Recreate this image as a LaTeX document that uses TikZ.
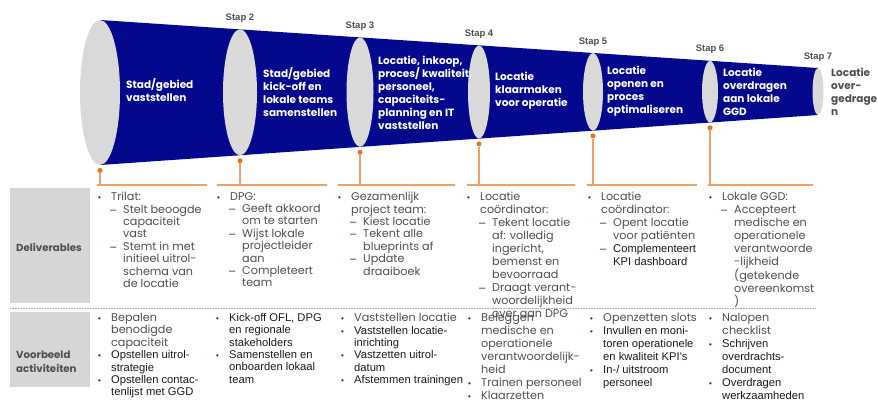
\documentclass[tikz,border=0pt]{standalone}
\usepackage{fontspec}
\setmainfont{Liberation Sans}
\newfontfamily\gothic{Poppins}
\newfontfamily\arialf{Liberation Sans}
\usetikzlibrary{shapes.geometric,positioning}

\definecolor{conecol}{RGB}{4,8,140}
\definecolor{ringcol}{RGB}{217,217,217}
\definecolor{pincol}{RGB}{232,112,30}
\definecolor{stemcol}{RGB}{240,160,105}
\definecolor{labelbg}{RGB}{214,214,214}
\definecolor{txtgrey}{RGB}{78,78,78}
\definecolor{txtdark}{RGB}{25,25,25}
\definecolor{bulcol}{RGB}{25,30,130}

% list helpers for the columns
\newcommand{\bul}{\makebox[13pt][l]{\textcolor{bulcol}{\arialf\footnotesize •}}}
\newcommand{\dsh}{\hspace*{12pt}\makebox[13pt][l]{\textcolor{bulcol}{\arialf –}}}
\newcommand{\ind}{\hspace*{13pt}}
\newcommand{\indd}{\hspace*{25pt}}
\newcommand{\ar}[1]{{\arialf\color{txtdark}#1}}

\tikzstyle{ring} = [ellipse, fill=ringcol, inner sep=0pt]
\tikzstyle{stage} = [text=white, font=\gothic\bfseries\fontsize{10.5}{13}\selectfont, align=left, inner sep=0pt, anchor=west]
\tikzstyle{steplabel} = [font=\bfseries\fontsize{9.5}{11}\selectfont, text=txtgrey, inner sep=0pt]
\tikzstyle{pin} = [circle, fill=pincol, inner sep=0pt, minimum size=5pt]
\tikzstyle{stem} = [draw=stemcol, line width=1.2pt]
\tikzstyle{column} = [align=left, anchor=north west, inner sep=0pt, text=txtgrey, font=\gothic\fontsize{11.2}{12.4}\selectfont]
\tikzstyle{loose} = [font=\gothic\fontsize{11.2}{12.95}\selectfont]
\tikzstyle{rowhead} = [fill=labelbg, minimum width=80pt, anchor=north west, inner sep=0pt]
\tikzstyle{rowtext} = [font=\gothic\bfseries\fontsize{10.2}{14.5}\selectfont, text=txtgrey, align=left, anchor=west, inner sep=0pt]

\begin{document}
\begin{tikzpicture}[x=1pt, y=-1pt]
\useasboundingbox (0,0) rectangle (878,405);

% the funnel
\coordinate (ctl) at (100,20);
\coordinate (ctr) at (818,68);
\coordinate (cbr) at (818,115);
\coordinate (cbl) at (100,165);
\fill[conecol] (ctl) -- (ctr) -- (cbr) -- (cbl) -- cycle;

\node [ring, minimum width=40pt, minimum height=145pt] (r1) at (100,92.5) {};
\node [ring, minimum width=34pt, minimum height=126pt] (r2) at (240,92.3) {};
\node [ring, minimum width=27pt, minimum height=109.5pt] (r3) at (360,92.1) {};
\node [ring, minimum width=22pt, minimum height=93pt] (r4) at (479,92) {};
\node [ring, minimum width=20pt, minimum height=77.5pt] (r5) at (593,91.8) {};
\node [ring, minimum width=16pt, minimum height=61.5pt] (r6) at (710,91.6) {};
\node [ring, minimum width=11pt, minimum height=47pt] (r7) at (818,91.5) {};

\node [steplabel, above=6.5pt of r2] (s2) {Stap 2};
\node [steplabel, above=6.5pt of r3] (s3) {Stap 3};
\node [steplabel, above=6.5pt of r4] (s4) {Stap 4};
\node [steplabel, above=6.5pt of r5] (s5) {Stap 5};
\node [steplabel, above=6.5pt of r6] (s6) {Stap 6};
\node [steplabel, above=6.5pt of r7] (s7) {Stap 7};

\node [stage] (t1) at (126,90) {Stad/gebied\\vaststellen};
\node [stage] (t2) at (263,92) {Stad/gebied\\kick-off en\\lokale teams\\samenstellen};
\node [stage] (t3) at (378,92.5) {Locatie, inkoop,\\proces/ kwaliteit,\\personeel,\\capaciteits-\\planning en IT\\vaststellen};
\node [stage] (t4) at (495,91) {Locatie\\klaarmaken\\voor operatie};
\node [stage] (t5) at (607,91.5) {Locatie\\openen en\\proces\\optimaliseren};
\node [stage] (t6) at (723,91.5) {Locatie\\overdragen\\aan lokale\\GGD};
\node [stage, text=txtgrey] (t7) at (831,91.5) {Locatie\\over-\\gedrage\\n};

% orange pins and brackets
\node [pin, below=2.5pt of r1] (p1) {};
\node [pin, below=2.5pt of r2] (p2) {};
\node [pin, below=2.5pt of r3] (p3) {};
\node [pin, below=2.5pt of r4] (p4) {};
\node [pin, below=2.5pt of r5] (p5) {};
\node [pin, below=2.5pt of r6] (p6) {};
\coordinate (h1a) at (97,185);  \coordinate (h1b) at (207,185);
\coordinate (h2a) at (217,185); \coordinate (h2b) at (327,185);
\coordinate (h3a) at (338,185); \coordinate (h3b) at (455,185);
\coordinate (h4a) at (467,185); \coordinate (h4b) at (575,185);
\coordinate (h5a) at (587,185); \coordinate (h5b) at (697,185);
\coordinate (h6a) at (708,185); \coordinate (h6b) at (813,185);
\path [stem] (p1) -- (p1 |- h1a) (h1a) -- (h1b);
\path [stem] (p2) -- (p2 |- h2a) (h2a) -- (h2b);
\path [stem] (p3) -- (p3 |- h3a) (h3a) -- (h3b);
\path [stem] (p4) -- (p4 |- h4a) (h4a) -- (h4b);
\path [stem] (p5) -- (p5 |- h5a) (h5a) -- (h5b);
\path [stem] (p6) -- (p6 |- h6a) (h6a) -- (h6b);

% row headings
\node [rowhead, minimum height=115pt] (delhead) at (10,188) {};
\node [rowhead, minimum height=75pt] (acthead) at (10,312) {};
\node [rowtext] (deltext) at (16,247) {Deliverables};
\node [rowtext] (acttext) at (16,362) {Voorbeeld\\activiteiten};
\coordinate (sepl) at (10,308);
\coordinate (sepr) at (815,308);
\draw [gray!70, line width=0.6pt, dash pattern=on 0.8pt off 0.8pt] (sepl) -- (sepr);

% deliverables
\node [column] (d1) at (98,192) {\bul Trilat:\\\dsh Stelt beoogde\\\indd capaciteit\\\indd vast\\\dsh Stemt in met\\\indd initieel uitrol-\\\indd schema van\\\indd de locatie};
\node [column] (d2) at (217,192) {\bul DPG:\\\dsh Geeft akkoord\\\indd om te starten\\\dsh Wijst lokale\\\indd projectleider\\\indd aan\\\dsh Completeert\\\indd team};
\node [column] (d3) at (338,192) {\bul Gezamenlijk\\\ind project team:\\\dsh Kiest locatie\\\dsh Tekent alle\\\indd blueprints af\\\dsh Update\\\indd draaiboek};
\node [column, loose] (d4) at (467,192) {\bul Locatie\\\ind coördinator:\\\dsh Tekent locatie\\\indd af: volledig\\\indd ingericht,\\\indd bemenst en\\\indd bevoorraad\\\dsh Draagt verant-\\\indd woordelijkheid\\\indd over aan DPG};
\node [column, loose] (d5) at (588,192) {\bul Locatie\\\ind coördinator:\\\dsh Opent locatie\\\indd voor patiënten\\\dsh \ar{Complementeert}\\\indd \ar{KPI dashboard}};
\node [column, loose] (d6) at (709,192) {\bul Lokale GGD:\\\dsh Accepteert\\\indd medische en\\\indd operationele\\\indd verantwoorde\\\indd -lijkheid\\\indd (getekende\\\indd overeenkomst\\\indd )};

% example activities
\node [column] (a1) at (98,313) {\bul Bepalen\\\ind benodigde\\\ind capaciteit\\\bul \ar{Opstellen uitrol-}\\\ind \ar{strategie}\\\bul \ar{Opstellen contac-}\\\ind \ar{tenlijst met GGD}};
\node [column] (a2) at (216,313) {\bul \ar{Kick-off OFL, DPG}\\\ind \ar{en regionale}\\\ind \ar{stakeholders}\\\bul \ar{Samenstellen en}\\\ind \ar{onboarden lokaal}\\\ind \ar{team}};
\node [column] (a3) at (341,313) {\bul Vaststellen locatie\\\bul \ar{Vaststellen locatie-}\\\ind \ar{inrichting}\\\bul \ar{Vastzetten uitrol-}\\\ind \ar{datum}\\\bul \ar{Afstemmen trainingen}};
\node [column, loose] (a4) at (468,313) {\bul Beleggen\\\ind medische en\\\ind operationele\\\ind verantwoordelijk-\\\ind heid\\\bul Trainen personeel\\\bul Klaarzetten};
\node [column, loose] (a5) at (590,313) {\bul Openzetten slots\\\bul \ar{Invullen en moni-}\\\ind \ar{toren operationele}\\\ind \ar{en kwaliteit KPI's}\\\bul \ar{In-/ uitstroom}\\\ind \ar{personeel}};
\node [column, loose] (a6) at (709,313) {\bul Nalopen\\\ind checklist\\\bul \ar{Schrijven}\\\ind \ar{overdrachts-}\\\ind \ar{document}\\\bul \ar{Overdragen}\\\ind \ar{werkzaamheden}};
\end{tikzpicture}
\end{document}
